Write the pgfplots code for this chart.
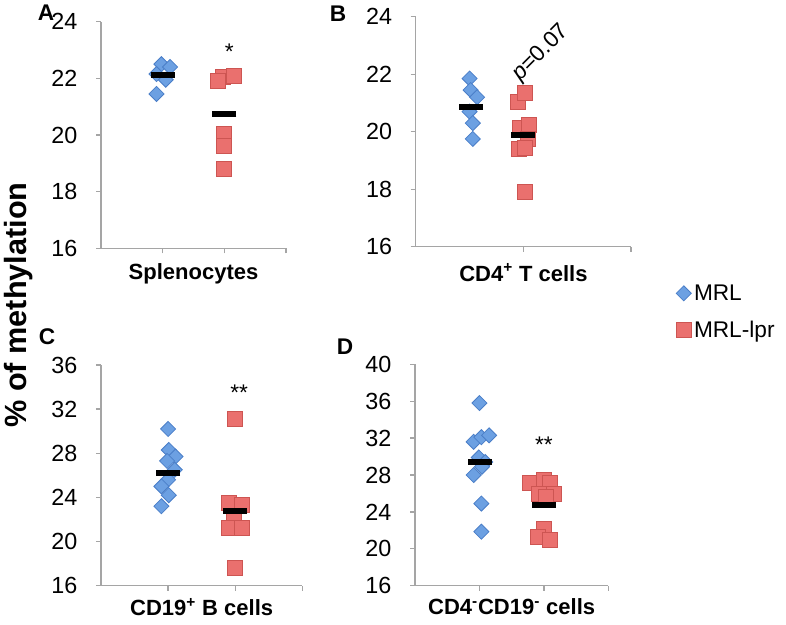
\documentclass[border=0pt]{standalone}
\usepackage{fontspec}
\setmainfont{Liberation Sans}
\usepackage{pgfplots}
\pgfplotsset{compat=1.18}
\definecolor{mrlblue}{RGB}{108,160,226}
\definecolor{mrledge}{RGB}{74,126,200}
\definecolor{lprred}{RGB}{234,112,110}
\definecolor{lpredge}{RGB}{205,85,82}
\definecolor{axisgray}{RGB}{165,165,165}

\pgfplotsset{
  panel/.style={
    scale only axis, anchor=south west,
    axis lines=left, axis line style={-, axisgray, line width=1pt},
    tick align=outside, major tick length=3.75pt,
    every tick/.style={axisgray, line width=1pt},
    xmin=0, xmax=3, xtick={1,2,3}, xticklabels={},
    tick label style={font=\fontsize{17.5}{20}\selectfont},
    /pgf/number format/assume math mode=true,
    yticklabel style={xshift=-10.5pt},
    clip=false,
  },
  mrl/.style={only marks, mark=square*, mark size=4pt,
    mark options={rotate=45, fill=mrlblue, draw=mrledge, line width=0.6pt}},
  lpr/.style={only marks, mark=square*, mark size=5.6pt,
    mark options={fill=lprred, draw=lpredge, line width=0.6pt}},
  mean/.style={only marks, mark=-, mark size=9pt,
    mark options={draw=black, line width=4.5pt}, forget plot},
}
\newcommand{\lab}{\bfseries\fontsize{16.5}{18}\selectfont}

\begin{document}
\begin{tikzpicture}
\path[use as bounding box] (0,0) rectangle (589.5pt,468.75pt);

% A: splenocytes
\begin{axis}[panel, at={(75.75pt,282.5pt)}, width=138.75pt, height=170pt,
  ymin=16, ymax=24, ytick={16,18,...,24}]
\addplot[mrl] coordinates {(0.9,21.45) (0.98,22.5) (1.12,22.4) (1.05,21.95) (0.9,22.15)};
\addplot[lpr] coordinates {(1.98,22.05) (1.9,21.9) (2.16,22.1) (2,20.05) (2,19.6) (2,18.8)};
\addplot[mean] coordinates {(1,22.1) (2,20.75)};
\node[font=\fontsize{17}{18}\selectfont] at (axis cs:2.08,22.95) {*};
\node[font=\lab] at ([yshift=-19pt]rel axis cs:0.5,0) {Splenocytes};
\end{axis}

% B: CD4+ T cells
\begin{axis}[panel, at={(311.8pt,283.7pt)}, width=161.5pt, height=172.5pt,
  xmax=4, xtick={2,4},
  ymin=16, ymax=24, ytick={16,18,...,24},
  legend style={at={(axis description cs:1.19,-0.14)}, anchor=north west,
    draw=none, fill=none, font=\fontsize{17}{18}\selectfont,
    row sep=10pt, cells={anchor=west}}]
\addplot[mrl] coordinates {(1,21.85) (1.02,21.45) (1.14,21.2) (1,20.7) (1.06,20.3) (1.06,19.75)};
\addlegendentry{MRL}
\addplot[lpr] coordinates {(1.9,21.05) (2.02,21.35) (1.94,20.15) (2.11,20.25) (2.09,19.75) (1.91,19.4) (2.03,19.45) (2.02,17.9)};
\addlegendentry{MRL-lpr}
\addplot[mean] coordinates {(1.03,20.87) (2,19.9)};
\node[font=\fontsize{17}{18}\selectfont, rotate=45] at (axis cs:2.33,22.74) {\textit{p}=0.07};
\node[font=\lab] at ([yshift=-19.5pt]rel axis cs:0.5,0) {CD4\textsuperscript{+} T cells};
\end{axis}

% C: CD19+ B cells
\begin{axis}[panel, at={(75.75pt,29.5pt)}, width=151pt, height=165.5pt,
  ymin=16, ymax=36, ytick={16,20,...,36}]
\addplot[mrl] coordinates {(1,30.2) (1.01,28.3) (1.11,27.7) (0.985,27.3) (1.1,26.5) (1,25.6) (0.9,25.0) (1.01,24.2) (0.9,23.2)};
\addplot[lpr] coordinates {(2,31.1) (1.91,23.5) (2.1,23.3) (1.98,22.3) (1.9,21.2) (2.1,21.2) (2,17.6)};
\addplot[mean] coordinates {(1,26.2) (2,22.8)};
\node[font=\fontsize{17}{18}\selectfont] at (axis cs:2.06,33.46) {**};
\node[font=\lab] at ([yshift=-16pt]rel axis cs:0.5,0) {CD19\textsuperscript{+} B cells};
\end{axis}

% D: CD4-CD19- cells
\begin{axis}[panel, at={(311.25pt,29.5pt)}, width=145pt, height=166pt,
  ymin=16, ymax=40, ytick={16,20,...,40}]
\addplot[mrl] coordinates {(1,35.8) (0.91,31.6) (1.03,32.1) (1.15,32.3) (0.99,29.9) (1.09,29.4) (1.04,28.9) (0.91,28.0) (1.03,24.9) (1.03,21.85)};
\addplot[lpr] coordinates {(1.79,27.1) (2,27.45) (2.1,27.1) (1.92,26.0) (2.16,26.0) (2.03,25.65) (2,22.2) (1.9,21.3) (2.1,20.95)};
\addplot[mean] coordinates {(1.01,29.45) (2,24.75)};
\node[font=\fontsize{17}{18}\selectfont] at (axis cs:2.0,31.28) {**};
\node[font=\lab] at ([yshift=-16pt]rel axis cs:0.5,0) {CD4\textsuperscript{-}CD19\textsuperscript{-} cells};
\end{axis}

\begin{scope}[x=0.75pt, y=-0.75pt, shift={(0pt,468.75pt)}]
\node[font=\bfseries\fontsize{17}{20}\selectfont] at (46,13) {A};
\node[font=\bfseries\fontsize{17}{20}\selectfont] at (338,14) {B};
\node[font=\bfseries\fontsize{17}{20}\selectfont] at (47,337) {C};
\node[font=\bfseries\fontsize{17}{20}\selectfont] at (345,347) {D};
\node[font=\bfseries\fontsize{23}{26}\selectfont, rotate=90] at (19,305) {\% of methylation};
\end{scope}
\end{tikzpicture}
\end{document}
